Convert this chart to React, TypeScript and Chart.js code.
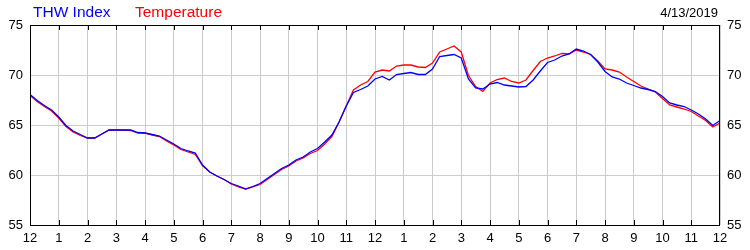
import React, { useEffect, useRef } from "react";
import { Chart, registerables } from "chart.js";

Chart.register(...registerables);

const titleThw = "THW Index";
const titleTemp = "Temperature";
const dateLabel = "4/13/2019";

const xTickLabels = [
  "12", "1", "2", "3", "4", "5", "6", "7", "8", "9", "10", "11",
  "12", "1", "2", "3", "4", "5", "6", "7", "8", "9", "10", "11", "12",
];

const yTicks = [55, 60, 65, 70, 75];

// 15-minute readings from 12 AM to 12 AM (97 values)
const thwIndex = [
  68.05, 67.45, 66.95, 66.5, 65.8, 64.95, 64.4, 64.05,
  63.7, 63.7, 64.1, 64.5, 64.5, 64.5, 64.5, 64.25,
  64.2, 64.05, 63.9, 63.5, 63.1, 62.65, 62.4, 62.2,
  61.0, 60.3, 59.9, 59.55, 59.15, 58.9, 58.6, 58.85,
  59.15, 59.65, 60.15, 60.65, 61.0, 61.5, 61.8, 62.3,
  62.65, 63.3, 64.0, 65.3, 66.9, 68.25, 68.55, 68.9,
  69.6, 69.85, 69.5, 70.05, 70.15, 70.25, 70.05, 70.05,
  70.6, 71.85, 71.95, 72.05, 71.7, 69.6, 68.7, 68.6,
  69.1, 69.25, 69.0, 68.9, 68.8, 68.85, 69.5, 70.4,
  71.25, 71.5, 71.9, 72.1, 72.6, 72.4, 72.05, 71.3,
  70.35, 69.8, 69.6, 69.2, 68.95, 68.7, 68.55, 68.35,
  67.85, 67.2, 67.0, 66.85, 66.5, 66.1, 65.6, 64.95,
  65.45,
];

const temperature = [
  67.95, 67.35, 66.85, 66.4, 65.7, 64.85, 64.3, 63.95,
  63.7, 63.7, 64.1, 64.5, 64.5, 64.5, 64.45, 64.2,
  64.2, 64.0, 63.85, 63.4, 63.0, 62.55, 62.3, 62.05,
  60.95, 60.3, 59.9, 59.55, 59.1, 58.8, 58.6, 58.8,
  59.05, 59.55, 60.05, 60.55, 60.9, 61.4, 61.7, 62.15,
  62.45, 63.1, 63.85, 65.3, 66.9, 68.5, 69.0, 69.35,
  70.3, 70.5, 70.4, 70.9, 71.0, 71.0, 70.8, 70.75,
  71.2, 72.3, 72.6, 72.9, 72.3, 69.95, 68.85, 68.35,
  69.2, 69.55, 69.7, 69.35, 69.2, 69.5, 70.45, 71.35,
  71.7, 71.9, 72.15, 72.1, 72.5, 72.3, 72.05, 71.4,
  70.6, 70.5, 70.3, 69.8, 69.35, 68.9, 68.6, 68.3,
  67.65, 67.0, 66.8, 66.6, 66.35, 65.9, 65.45, 64.8,
  65.2,
];

const FONT = "'Liberation Sans', Arial, sans-serif";

const toPoints = (vals: number[]) =>
  vals.map((v, i) => ({ x: (i * 24) / (vals.length - 1), y: v }));

const framePlugin = {
  id: "frame",
  afterDraw(chart: any) {
    const { ctx, chartArea } = chart;
    const { left, right, top, bottom } = chartArea;
    const xs = chart.scales.x;
    ctx.save();
    ctx.strokeStyle = "#000";
    ctx.lineWidth = 1;
    ctx.beginPath();
    for (let i = 1; i < xTickLabels.length - 1; i++) {
      const px = Math.round(xs.getPixelForValue(i)) + 0.5;
      ctx.moveTo(px, top);
      ctx.lineTo(px, top + 5);
      ctx.moveTo(px, bottom);
      ctx.lineTo(px, bottom - 5);
    }
    ctx.stroke();
    ctx.strokeRect(left + 0.5, top + 0.5, right - left - 1, bottom - top);
    // titles
    ctx.textBaseline = "alphabetic";
    ctx.font = `15.5px ${FONT}`;
    ctx.textAlign = "left";
    ctx.fillStyle = "#0000ff";
    ctx.fillText(titleThw, 33, 17);
    ctx.fillStyle = "#ff0000";
    ctx.fillText(titleTemp, 135, 17);
    ctx.font = `13px ${FONT}`;
    ctx.fillStyle = "#000";
    ctx.textAlign = "right";
    ctx.fillText(dateLabel, 718, 17);
    ctx.restore();
  },
};

export default function App() {
  const ref = useRef<HTMLCanvasElement>(null);
  useEffect(() => {
    document.body.style.margin = "0";
    const canvas = ref.current!;
    const yAxis = (position: string) => ({
      type: "linear" as const,
      position,
      min: yTicks[0],
      max: yTicks[yTicks.length - 1],
      afterFit: (s: any) => {
        s.width = 30;
      },
      afterBuildTicks: (s: any) => {
        s.ticks = yTicks.map((v) => ({ value: v }));
      },
      grid: {
        display: position === "left",
        color: "#cccccc",
        lineWidth: 1,
        drawTicks: false,
      },
      border: { display: false },
      ticks: {
        color: "#000",
        font: { family: FONT, size: 13 },
        padding: 7,
      },
    });
    const chart = new Chart(canvas, {
      type: "line",
      data: {
        datasets: [
          {
            label: titleThw,
            data: toPoints(thwIndex),
            borderColor: "#0000ff",
            borderWidth: 1.3,
            pointRadius: 0,
            tension: 0,
            yAxisID: "y",
          },
          {
            label: titleTemp,
            data: toPoints(temperature),
            borderColor: "#ff0000",
            borderWidth: 1.3,
            pointRadius: 0,
            tension: 0,
            yAxisID: "y",
          },
        ],
      },
      options: {
        responsive: false,
        animation: false,
        devicePixelRatio: 1,
        layout: { padding: { top: 25, left: 0, right: 0, bottom: 0 } },
        plugins: {
          legend: { display: false },
          tooltip: { enabled: false },
          title: { display: false },
        },
        scales: {
          x: {
            type: "linear",
            min: 0,
            max: 24,
            afterFit: (s: any) => {
              s.height = 25;
            },
            afterBuildTicks: (s: any) => {
              s.ticks = xTickLabels.map((_, i) => ({ value: i }));
            },
            grid: { color: "#cccccc", lineWidth: 1, drawTicks: false },
            border: { display: false },
            ticks: {
              color: "#000",
              font: { family: FONT, size: 13 },
              padding: 6,
              maxRotation: 0,
              autoSkip: false,
              callback: (_v: any, i: number) => xTickLabels[i],
            },
          },
          y: yAxis("left"),
          y2: yAxis("right"),
        },
      },
      plugins: [framePlugin],
    } as any);
    return () => chart.destroy();
  }, []);
  return (
    <div style={{ width: 750, height: 250, background: "#fff" }}>
      <canvas ref={ref} width={750} height={250} style={{ display: "block" }} />
    </div>
  );
}
